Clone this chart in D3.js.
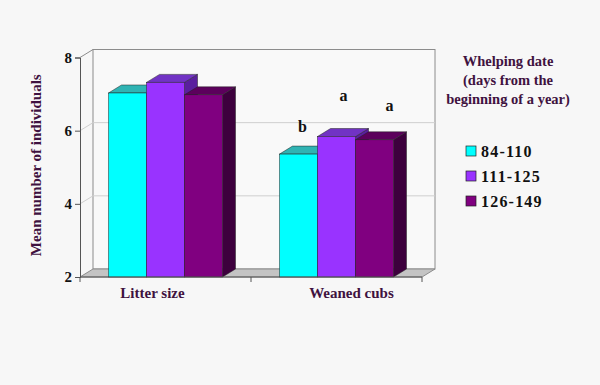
<!DOCTYPE html>
<html>
<head>
<meta charset="utf-8">
<script src="https://cdn.jsdelivr.net/npm/d3@7"></script>
<style>
  body { margin: 0; background: #f7f7f7; }
  text { font-family: "Liberation Serif", "Times New Roman", serif; font-weight: bold; }
</style>
</head>
<body>
<div id="chart-area"></div>
<script>
// chart data
var categories = ["Litter size", "Weaned cubs"];
var series = ["84-110", "111-125", "126-149"];
var litterSize = [7.03, 7.32, 6.98];
var weanedCubs = [5.36, 5.84, 5.75];
var yTicks = [2, 4, 6, 8];
var sigLetters = ["b", "a", "a"];        // letters above weaned cubs bars
var sigLetterY = [5.95, 6.8, 6.53];      // letter height in data units

var values = [litterSize, weanedCubs];

var width = 600,
	height = 385;

var frontColor = ["#00ffff", "#9933ff", "#800080"];
var topColor = ["#2fb3b3", "#7133c4", "#5c005c"];
var sideColor = ["#1f8c8c", "#5a1f9e", "#3d003d"];

var depth = {dx: 13, dy: -8};

var svg = d3.select("#chart-area").append("svg")
	.attr("width", width)
	.attr("height", height)

svg.append("rect")
	.attr("width", width)
	.attr("height", height)
	.attr("fill", "#f7f7f7")

// scales
var y = d3.scaleLinear()
	.domain([2, 8])
	.range([277, 57.5])

var x0 = d3.scaleBand()
	.domain(categories)
	.range([80, 422])
	.paddingInner(1 / 3)
	.paddingOuter(1 / 6)

var x1 = d3.scaleBand()
	.domain(series)
	.range([0, x0.bandwidth()])

var xLeft = x0.range()[0],
	xRight = x0.range()[1],
	yBottom = y(2),
	yTop = y(8);

// back wall
svg.append("rect")
	.attr("x", xLeft + depth.dx)
	.attr("y", yTop + depth.dy)
	.attr("width", xRight - xLeft)
	.attr("height", yBottom - yTop)
	.attr("fill", "#f9f9f9")
	.attr("stroke", "#8c8c8c")
	.attr("stroke-width", 1)

// gridlines on back wall + left wall
yTicks.filter(d => d > 2 && d < 8).forEach(function(t) {
	svg.append("line")
		.attr("x1", xLeft + depth.dx).attr("x2", xRight + depth.dx)
		.attr("y1", y(t) + depth.dy).attr("y2", y(t) + depth.dy)
		.attr("stroke", "#cfcfcf")
	svg.append("line")
		.attr("x1", xLeft).attr("x2", xLeft + depth.dx)
		.attr("y1", y(t)).attr("y2", y(t) + depth.dy)
		.attr("stroke", "#cfcfcf")
});

// left wall top edge
svg.append("line")
	.attr("x1", xLeft).attr("x2", xLeft + depth.dx)
	.attr("y1", yTop).attr("y2", yTop + depth.dy)
	.attr("stroke", "#8c8c8c")

// floor
svg.append("polygon")
	.attr("points", [
		[xLeft, yBottom], [xRight, yBottom],
		[xRight + depth.dx, yBottom + depth.dy], [xLeft + depth.dx, yBottom + depth.dy]
	].map(p => p.join(",")).join(" "))
	.attr("fill", "#c4c4c4")
	.attr("stroke", "#8c8c8c")

// bars
categories.forEach(function(cat, ci) {
	series.forEach(function(s, si) {
		var v = values[ci][si];
		var bx = x0(cat) + x1(s),
			bw = x1.bandwidth(),
			by = y(v);
		var g = svg.append("g");
		// side
		g.append("polygon")
			.attr("points", [
				[bx + bw, by], [bx + bw + depth.dx, by + depth.dy],
				[bx + bw + depth.dx, yBottom + depth.dy], [bx + bw, yBottom]
			].map(p => p.join(",")).join(" "))
			.attr("fill", sideColor[si])
			.attr("stroke", "#222")
			.attr("stroke-width", 0.5)
		// top
		g.append("polygon")
			.attr("points", [
				[bx, by], [bx + depth.dx, by + depth.dy],
				[bx + bw + depth.dx, by + depth.dy], [bx + bw, by]
			].map(p => p.join(",")).join(" "))
			.attr("fill", topColor[si])
			.attr("stroke", "#222")
			.attr("stroke-width", 0.5)
		// front
		g.append("rect")
			.attr("x", bx)
			.attr("y", by)
			.attr("width", bw)
			.attr("height", yBottom - by)
			.attr("fill", frontColor[si])
			.attr("stroke", "#222")
			.attr("stroke-width", 0.5)
	});
});

// y axis
var yAxis = d3.axisLeft(y)
	.tickValues(yTicks)
	.tickSize(5)
	.tickFormat(d3.format("d"))

var yAxisGroup = svg.append("g")
	.attr("class", "y-axis axis")
	.attr("transform", "translate(" + xLeft + ",0)")
	.call(yAxis)

yAxisGroup.select(".domain").attr("stroke", "#555")
yAxisGroup.selectAll(".tick line").attr("stroke", "#555")
yAxisGroup.selectAll("text")
	.attr("font-size", 15)
	.attr("font-family", "Liberation Serif")
	.attr("font-weight", "bold")
	.attr("fill", "#111")
	.attr("x", -8)

// x axis
var xAxisGroup = svg.append("g")
	.attr("class", "x-axis axis")
	.attr("transform", "translate(0," + yBottom + ")")

xAxisGroup.append("line")
	.attr("x1", xLeft).attr("x2", xRight)
	.attr("stroke", "#555")

var xTickPos = [xLeft].concat(categories.map(c => x0(c) + x0.bandwidth() / 2 + x0.step() / 2));
xAxisGroup.selectAll(".xtick")
	.data(xTickPos)
	.enter()
	.append("line")
	.attr("x1", d => d).attr("x2", d => d)
	.attr("y1", 0).attr("y2", 5)
	.attr("stroke", "#555")

var labelShift = [-13, 15];
svg.selectAll(".cat-label")
	.data(categories)
	.enter()
	.append("text")
	.attr("class", "cat-label")
	.attr("x", (d, i) => x0(d) + x0.bandwidth() / 2 + labelShift[i])
	.attr("y", 298)
	.attr("text-anchor", "middle")
	.attr("font-size", 15)
	.attr("fill", "#3f1240")
	.text(d => d)

// y label
svg.append("text")
	.attr("transform", "translate(41," + (y(5) - 2) + ") rotate(-90)")
	.attr("text-anchor", "middle")
	.attr("font-size", 15)
	.attr("fill", "#3f1240")
	.text("Mean number of individuals")

// significance letters
var letterShift = [4, 7, 15];
svg.selectAll(".sig")
	.data(sigLetters)
	.enter()
	.append("text")
	.attr("class", "sig")
	.attr("x", (d, i) => x0(categories[1]) + x1(series[i]) + x1.bandwidth() / 2 + letterShift[i])
	.attr("y", (d, i) => y(sigLetterY[i]))
	.attr("text-anchor", "middle")
	.attr("font-size", 16)
	.attr("fill", "#111")
	.text(d => d)

// legend
var legendTitle = ["Whelping date", "(days from the", "beginning of a year)"];
svg.selectAll(".legend-title")
	.data(legendTitle)
	.enter()
	.append("text")
	.attr("class", "legend-title")
	.attr("x", 508)
	.attr("y", (d, i) => 66 + i * 19)
	.attr("text-anchor", "middle")
	.attr("font-size", 14.5)
	.attr("fill", "#3f1240")
	.text(d => d)

var legend = svg.selectAll(".legend-item")
	.data(series)
	.enter()
	.append("g")
	.attr("class", "legend-item")
	.attr("transform", (d, i) => "translate(466," + (151 + i * 25) + ")")

legend.append("rect")
	.attr("x", 0)
	.attr("y", -5)
	.attr("width", 10)
	.attr("height", 10)
	.attr("fill", (d, i) => frontColor[i])
	.attr("stroke", "#222")
	.attr("stroke-width", 0.7)

legend.append("text")
	.attr("x", 15)
	.attr("y", 6)
	.attr("font-size", 16)
	.attr("letter-spacing", 1.2)
	.attr("fill", "#111")
	.text(d => d)
</script>
</body>
</html>
